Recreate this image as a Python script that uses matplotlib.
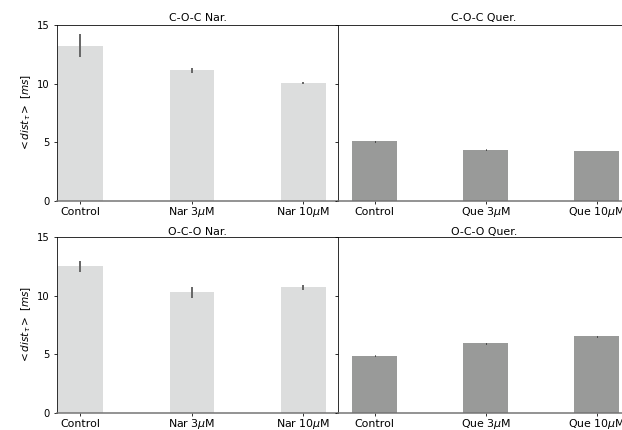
import matplotlib

matplotlib.use("Agg")
import matplotlib.pyplot as plt  # noqa: E402
import numpy as np  # noqa: E402

# mean dwell distance per condition, with errors
nar_labels = ["Control", r"Nar 3$\mu$M", r"Nar 10$\mu$M"]
que_labels = ["Control", r"Que 3$\mu$M", r"Que 10$\mu$M"]

coc_nar = [13.25, 11.15, 10.05]
coc_nar_err = [1.0, 0.2, 0.12]
coc_que = [5.1, 4.35, 4.26]
coc_que_err = [0.05, 0.04, 0.03]

oco_nar = [12.5, 10.29, 10.7]
oco_nar_err = [0.48, 0.47, 0.2]
oco_que = [4.9, 5.93, 6.52]
oco_que_err = [0.06, 0.05, 0.04]

NAR_COLOR = "#dcdddd"
QUE_COLOR = "#999a99"

W, H = 622, 430
fig = plt.figure(figsize=(W / 72, H / 72), dpi=72)


def px_axes(left, top, right, bottom):
    return fig.add_axes([left / W, 1 - bottom / H, (right - left) / W, (bottom - top) / H])


ax_tl = px_axes(57, 25, 338, 201)
ax_tr = px_axes(338, 25, 630, 201)
ax_bl = px_axes(57, 237, 338, 413)
ax_br = px_axes(338, 237, 630, 413)

panels = [
    (ax_tl, "C-O-C Nar.", nar_labels, coc_nar, coc_nar_err, NAR_COLOR, "dimgray", 2.0, 4),
    (ax_tr, "C-O-C Quer.", que_labels, coc_que, coc_que_err, QUE_COLOR, "black", 1.0, 4),
    (ax_bl, "O-C-O Nar.", nar_labels, oco_nar, oco_nar_err, NAR_COLOR, "dimgray", 2.0, 1.5),
    (ax_br, "O-C-O Quer.", que_labels, oco_que, oco_que_err, QUE_COLOR, "black", 1.0, 1.5),
]

x = np.arange(3)
for ax, title, labels, vals, errs, color, ecolor, elw, tpad in panels:
    ax.bar(x, vals, width=0.4, yerr=errs, color=color,
           error_kw=dict(ecolor=ecolor, lw=elw, capsize=0))
    ax.set_title(title, fontsize=11, pad=tpad)
    ax.set_xticks(x)
    # baseline-align so plain and mathtext labels sit on one line
    ax.set_xticklabels(labels, fontsize=11, va="baseline")
    ax.tick_params(axis="x", length=3, pad=11)
    ax.tick_params(axis="y", labelsize=10)
    ax.spines["bottom"].set_color("0.45")
    ax.spines["bottom"].set_linewidth(1.5)
    ax.set_ylim(0, 15)
    ax.set_yticks([0, 5, 10, 15])

for ax in (ax_tl, ax_bl):
    ax.set_xlim(-0.21, 2.31)
    ax.set_ylabel(r"$< dist_{\tau} >$ [$ms$]", fontsize=10.5)
for ax in (ax_tr, ax_br):
    ax.set_xlim(-0.33, 2.30)
    ax.set_yticklabels([])

fig.savefig("out.png", dpi=72)
